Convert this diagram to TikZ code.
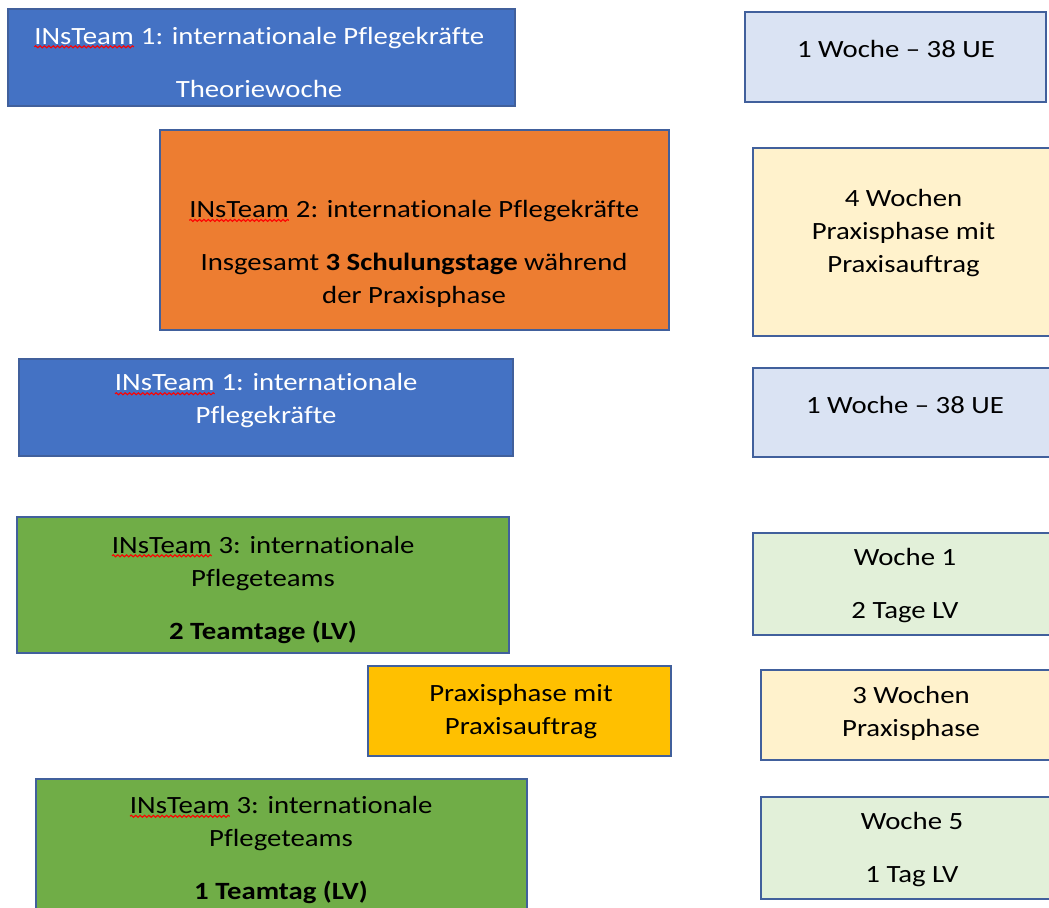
\documentclass[tikz,border=0pt]{standalone}
\usepackage{fontspec}
\setmainfont{Carlito}[FakeStretch=1.16, Ligatures=NoCommon]
\usetikzlibrary{decorations.pathmorphing}

\definecolor{darkblue}{HTML}{4472C4}
\definecolor{paleblue}{HTML}{DAE3F3}
\definecolor{darkorange}{HTML}{ED7D31}
\definecolor{palecream}{HTML}{FFF2CC}
\definecolor{darkgreen}{HTML}{70AD47}
\definecolor{palegreen}{HTML}{E2F0D9}
\definecolor{goldyellow}{HTML}{FFC000}
\definecolor{edgeblue}{HTML}{41609C}

% red spell-check squiggle under a word
\newcommand{\spellmark}[1]{\tikz[baseline=(sw.base)]{\node[inner sep=0pt, outer sep=0pt] (sw) {#1};
	\draw[red, line width=.55pt, decorate, decoration={snake, amplitude=.5pt, segment length=2.2pt}]
	([yshift=-1.3pt]sw.south west) -- ([yshift=-1.3pt]sw.south east);}}

\begin{document}
\begin{tikzpicture}[
			x=0.5pt, y=-0.5pt,
			box/.style = {draw=edgeblue, line width=0.9pt, inner sep=0pt},
			txt/.style = {align=center, inner sep=0pt, font=\fontsize{12.4pt}{16.5pt}\selectfont}
		]
		\useasboundingbox (0,0) rectangle (1049,908);
		\clip (0,0) rectangle (1049,908);
		% Left column.
		\node[box, fill=darkblue, minimum width=253.5pt, minimum height=48.5pt] (theo1) at (261.5,57.5) {};
		\node[box, fill=darkorange, minimum width=254.5pt, minimum height=100pt] (prax4) at (414.5,230) {};
		\node[box, fill=darkblue, minimum width=247pt, minimum height=48.5pt] (theo2) at (266,407.5) {};
		\node[box, fill=darkgreen, minimum width=246pt, minimum height=68pt] (team1) at (263,585) {};
		\node[box, fill=goldyellow, minimum width=151.5pt, minimum height=45pt] (prax3) at (519.5,711) {};
		\node[box, fill=darkgreen, minimum width=245.5pt, minimum height=68pt] (team2) at (281.5,847) {};
		% Right column.
		\node[box, fill=paleblue, minimum width=150.5pt, minimum height=45pt] (dur1) at (895.5,57) {};
		\node[box, fill=palecream, minimum width=150.5pt, minimum height=94pt] (dur2) at (903.5,242) {};
		\node[box, fill=paleblue, minimum width=150.5pt, minimum height=44.5pt] (dur3) at (903.5,412.5) {};
		\node[box, fill=palegreen, minimum width=150.5pt, minimum height=51pt] (dur4) at (903.5,584) {};
		\node[box, fill=palecream, minimum width=150pt, minimum height=45pt] (dur5) at (911,715) {};
		\node[box, fill=palegreen, minimum width=150pt, minimum height=51pt] (dur6) at (911,848) {};

		% Texts.
		\node[txt, text=white] (theo1-t) at (259,62) {\spellmark{INsTeam} 1: internationale Pflegekräfte\\[10pt] Theoriewoche};
		\node[txt] (prax4-t) at (414,254) {\spellmark{INsTeam} 2: internationale Pflegekräfte\\[10pt]
			Insgesamt \textbf{3 Schulungstage} während\\ der Praxisphase};
		\node[txt, text=white] (theo2-t) at (266,401) {\spellmark{INsTeam} 1: internationale\\ Pflegekräfte};
		\node[txt] (team1-t) at (263,589.5) {\spellmark{INsTeam} 3: internationale\\ Pflegeteams\\[10pt] \textbf{2 Teamtage (LV)}};
		\node[txt] (prax3-t) at (521,712) {Praxisphase mit\\ Praxisauftrag};
		\node[txt] (team2-t) at (281,850) {\spellmark{INsTeam} 3: internationale\\ Pflegeteams\\[10pt] \textbf{1 Teamtag (LV)}};
		\node[txt] (dur1-t) at (896,49) {1 Woche -- 38 UE};
		\node[txt] (dur2-t) at (903.5,233) {4 Wochen\\ Praxisphase mit\\ Praxisauftrag};
		\node[txt] (dur3-t) at (905,405) {1 Woche -- 38 UE};
		\node[txt] (dur4-t) at (905,586) {Woche 1\\[10pt] 2 Tage LV};
		\node[txt] (dur5-t) at (911,713) {3 Wochen\\ Praxisphase};
		\node[txt] (dur6-t) at (912,849.5) {Woche 5\\[10pt] 1 Tag LV};
	\end{tikzpicture}
\end{document}
